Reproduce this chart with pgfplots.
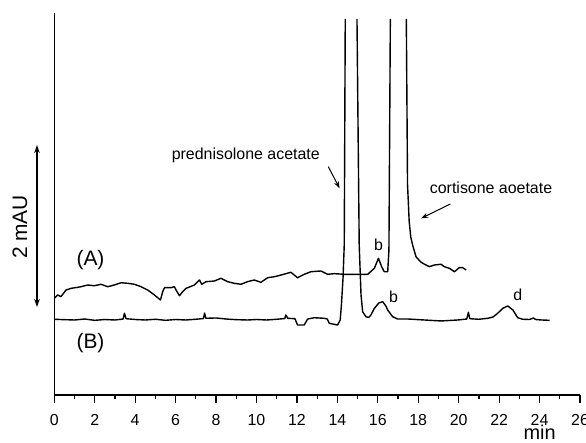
\documentclass[border=0pt]{standalone}
\usepackage{fontspec}
\setmainfont{Liberation Sans}
\usepackage{pgfplots}
\pgfplotsset{compat=1.18}
\usetikzlibrary{arrows.meta}
\begin{document}
\begin{tikzpicture}
\useasboundingbox (0,0) rectangle (586bp,443bp);
\begin{axis}[
  at={(54.3bp,48bp)}, anchor=south west, scale only axis,
  width=525.7bp, height=382bp,
  xmin=0, xmax=26, ymin=0, ymax=4.716,
  axis x line*=bottom, axis y line*=left,
  ytick=\empty, xtick={0,2,...,26}, minor xtick={1,3,...,25},
  tick align=outside, major tick length=7.5bp, minor tick length=4bp,
  every tick/.style={black, line width=1.2bp},
  axis line style={line width=1.2bp},
  xticklabel style={font=\fontsize{16}{18}\selectfont, anchor=base, yshift=-23bp},
  /pgf/number format/assume math mode=true,
  clip=false, unbounded coords=jump,
]
% Trace A
\addplot[black, line width=1.4bp, line join=round, mark=none] coordinates {
(0.00,1.194) (0.17,1.235) (0.33,1.214) (0.58,1.296) (0.83,1.317) (1.10,1.327)
(1.32,1.337) (1.65,1.358) (1.98,1.349) (2.31,1.367) (2.64,1.337) (2.97,1.358)
(3.30,1.386) (3.63,1.379) (3.96,1.367) (4.29,1.337) (4.62,1.296) (4.95,1.235)
(5.25,1.173) (5.36,1.275) (5.45,1.325) (5.78,1.325) (5.94,1.337) (6.02,1.296)
(6.19,1.226) (6.35,1.275) (6.52,1.317) (6.93,1.358) (7.18,1.420) (7.29,1.367)
(7.51,1.399) (7.92,1.407) (8.24,1.441) (8.57,1.399) (8.90,1.379) (9.23,1.367)
(9.56,1.399) (9.89,1.420) (10.22,1.391) (10.55,1.448) (10.88,1.460) (11.21,1.481)
(11.70,1.515) (12.03,1.448) (12.36,1.490) (12.69,1.522) (13.19,1.531) (13.52,1.490)
(13.85,1.498) (14.34,1.490) (14.84,1.490) (15.50,1.490) (15.83,1.564) (16.03,1.688)
(16.19,1.584) (16.32,1.522) (16.49,1.522) (16.55,1.790) (16.62,4.642)
(16.9,nan)
(17.41,4.642) (17.47,2.60) (17.55,2.15) (17.63,1.95) (17.72,1.852) (17.89,1.707)
(18.14,1.638) (18.38,1.605) (18.55,1.584) (18.80,1.605) (19.13,1.614) (19.29,1.584)
(19.54,1.564) (19.79,1.522) (20.03,1.572) (20.20,1.572) (20.37,1.543)
};
% Trace B
\addplot[black, line width=1.4bp, line join=round, mark=none] coordinates {
(0.00,0.935) (0.50,0.930) (1.00,0.926) (1.50,0.938) (2.00,0.922) (2.50,0.932)
(3.00,0.926) (3.40,0.938) (3.47,1.009) (3.55,0.942) (4.00,0.932) (4.50,0.926)
(5.00,0.935) (5.50,0.922) (6.00,0.932) (6.50,0.926) (7.00,0.935) (7.38,0.944)
(7.43,1.012) (7.50,0.947) (8.00,0.951) (8.50,0.938) (9.00,0.930) (9.56,0.926)
(10.00,0.932) (10.50,0.926) (11.00,0.935) (11.40,0.944) (11.45,0.988) (11.55,0.947)
(11.90,0.942) (12.03,0.864) (12.36,0.864) (12.53,0.938) (12.86,0.954) (13.35,0.947)
(13.50,0.938) (13.60,0.885) (14.01,0.864) (14.14,0.926) (14.20,1.111) (14.28,1.444)
(14.34,1.852) (14.39,4.642)
(14.7,nan)
(14.97,4.642) (15.08,1.852) (15.17,1.235) (15.25,1.028) (15.41,0.967) (15.55,0.957)
(15.66,0.988) (15.83,1.070) (16.05,1.136) (16.24,1.152) (16.40,1.099) (16.49,1.049)
(16.73,0.967) (16.98,0.938) (17.50,0.938) (18.30,0.926) (19.13,0.914) (19.95,0.926)
(20.40,0.938) (20.48,1.021) (20.55,0.942) (21.00,0.935) (21.44,0.947) (21.70,0.963)
(21.93,1.009) (22.18,1.070) (22.43,1.099) (22.68,1.049) (22.92,0.954) (23.17,0.935)
(23.50,0.932) (23.70,0.951) (23.80,0.932) (24.10,0.926) (24.50,0.922)
};
% annotations
\draw[line width=1.2bp, {Stealth[length=8bp,width=5.5bp]}-{Stealth[length=8bp,width=5.5bp]}]
  (axis cs:-0.856,1.086) -- (axis cs:-0.856,3.086);
\node[rotate=90, font=\fontsize{21}{24}\selectfont] at (axis cs:-1.70,2.074) {2 mAU};
\node[font=\fontsize{21}{24}\selectfont] at (axis cs:1.79,1.667) {(A)};
\node[font=\fontsize{21}{24}\selectfont] at (axis cs:1.79,0.638) {(B)};
\node[font=\fontsize{16}{19}\selectfont] at (axis cs:9.47,2.963) {prednisolone acetate};
\draw[line width=1bp, -{Stealth[length=7bp,width=5bp]}] (axis cs:13.55,2.819) -- (axis cs:14.11,2.552);
\node[font=\fontsize{16}{19}\selectfont] at (axis cs:21.6,2.556) {cortisone aoetate};
\draw[line width=1bp, -{Stealth[length=7bp,width=5bp]}] (axis cs:19.59,2.358) -- (axis cs:18.14,2.181);
\node[font=\fontsize{16}{19}\selectfont] at (axis cs:16.04,1.852) {b};
\node[font=\fontsize{16}{19}\selectfont] at (axis cs:16.78,1.214) {b};
\node[font=\fontsize{16}{19}\selectfont] at (axis cs:22.92,1.235) {d};
\node[font=\fontsize{20}{23}\selectfont, anchor=base, inner sep=0pt] at (axis cs:24.0,-0.545) {min};
\end{axis}
\end{tikzpicture}
\end{document}
